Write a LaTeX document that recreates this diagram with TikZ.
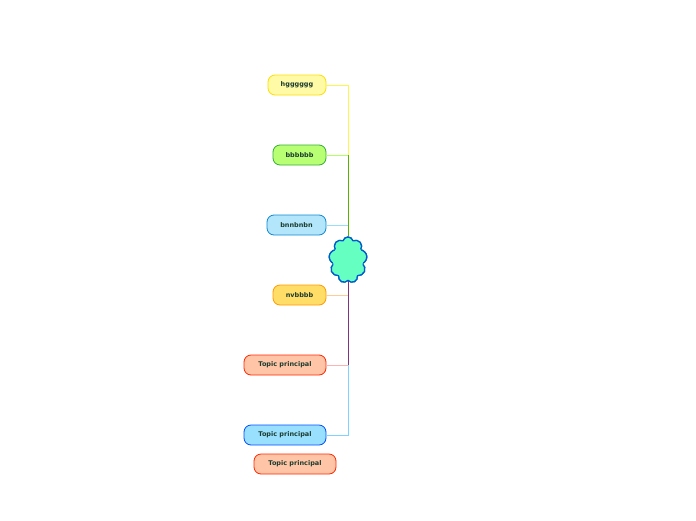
\documentclass[tikz,border=0pt]{standalone}
\usepackage{fontspec}
\setmainfont{DejaVu Sans}
\usetikzlibrary{shapes.symbols}
\definecolor{txt}{HTML}{1B3B2E}
\tikzset{x=1pt,y=-1pt,
 topic/.style={draw, rounded corners=7pt, minimum height=20pt, inner sep=0pt, line width=0.8pt, font=\fontsize{6.5}{7}\selectfont\bfseries, text=txt},
 br/.style={line width=0.8pt}}
\begin{document}
\begin{tikzpicture}
\useasboundingbox (0,0) rectangle (696,520);
\node[cloud, cloud puffs=9, aspect=0.8, draw=blue!55!cyan!80!black, fill=green!40!cyan!60!white, line width=1.3pt, minimum width=38pt, minimum height=46pt, inner sep=0pt] (c) at (348,260) {};
\fill[green!40!cyan!60!white] (348,260) ellipse (16 and 20);
\node[topic, fill=yellow!35, draw=yellow!80!orange, minimum width=58pt] (a) at (297,85) {hgggggg};
\node[topic, fill=green!50!yellow!55, draw=green!60!black!80, minimum width=53pt] (b) at (299.5,155) {bbbbbb};
\node[topic, fill=cyan!30, draw=cyan!70!blue, minimum width=59pt] (d) at (296.5,225) {bnnbnbn};
\node[topic, fill=orange!45!yellow!60, draw=orange!80!yellow, minimum width=53pt] (e) at (299.5,295) {nvbbbb};
\node[topic, fill=red!30!orange!35, draw=red!70!orange, minimum width=82pt] (f) at (285,365) {Topic principal};
\node[topic, fill=blue!30!cyan!40, draw=blue!70!cyan, minimum width=82pt] (g) at (285,435) {Topic principal};
\node[topic, fill=red!30!orange!35, draw=red!70!orange, minimum width=82pt] (h) at (295,464) {Topic principal};
\coordinate (t1) at (348,85);
\coordinate (t2) at (348,155);
\coordinate (t3) at (348,225);
\coordinate (t4) at (348,295);
\coordinate (t5) at (348,365);
\coordinate (t6) at (348,435);
\begin{scope}[on background layer/.try]
\end{scope}
\draw[br, yellow!70] (a.east) -- (t1) -- (t2);
\draw[br, green!50!yellow!70!black] (t2) -- (c.north);
\draw[br, green!50!yellow!60] (b.east) -- (t2);
\draw[br, cyan!40] (d.east) -- (t3);
\draw[br, orange!40] (e.east) -- (t4);
\draw[br, blue!50!red!60!gray] (c.south) -- (t5);
\draw[br, red!30] (f.east) -- (t5);
\draw[br, blue!35!cyan!50] (t5) -- (t6) -- (g.east);
\node[cloud, cloud puffs=9, aspect=0.8, draw=blue!55!cyan!80!black, fill=green!40!cyan!60!white, line width=1.3pt, minimum width=38pt, minimum height=46pt, inner sep=0pt] at (348,260) {};
\fill[green!40!cyan!60!white] (348,260) ellipse (15 and 19);
\end{tikzpicture}
\end{document}
